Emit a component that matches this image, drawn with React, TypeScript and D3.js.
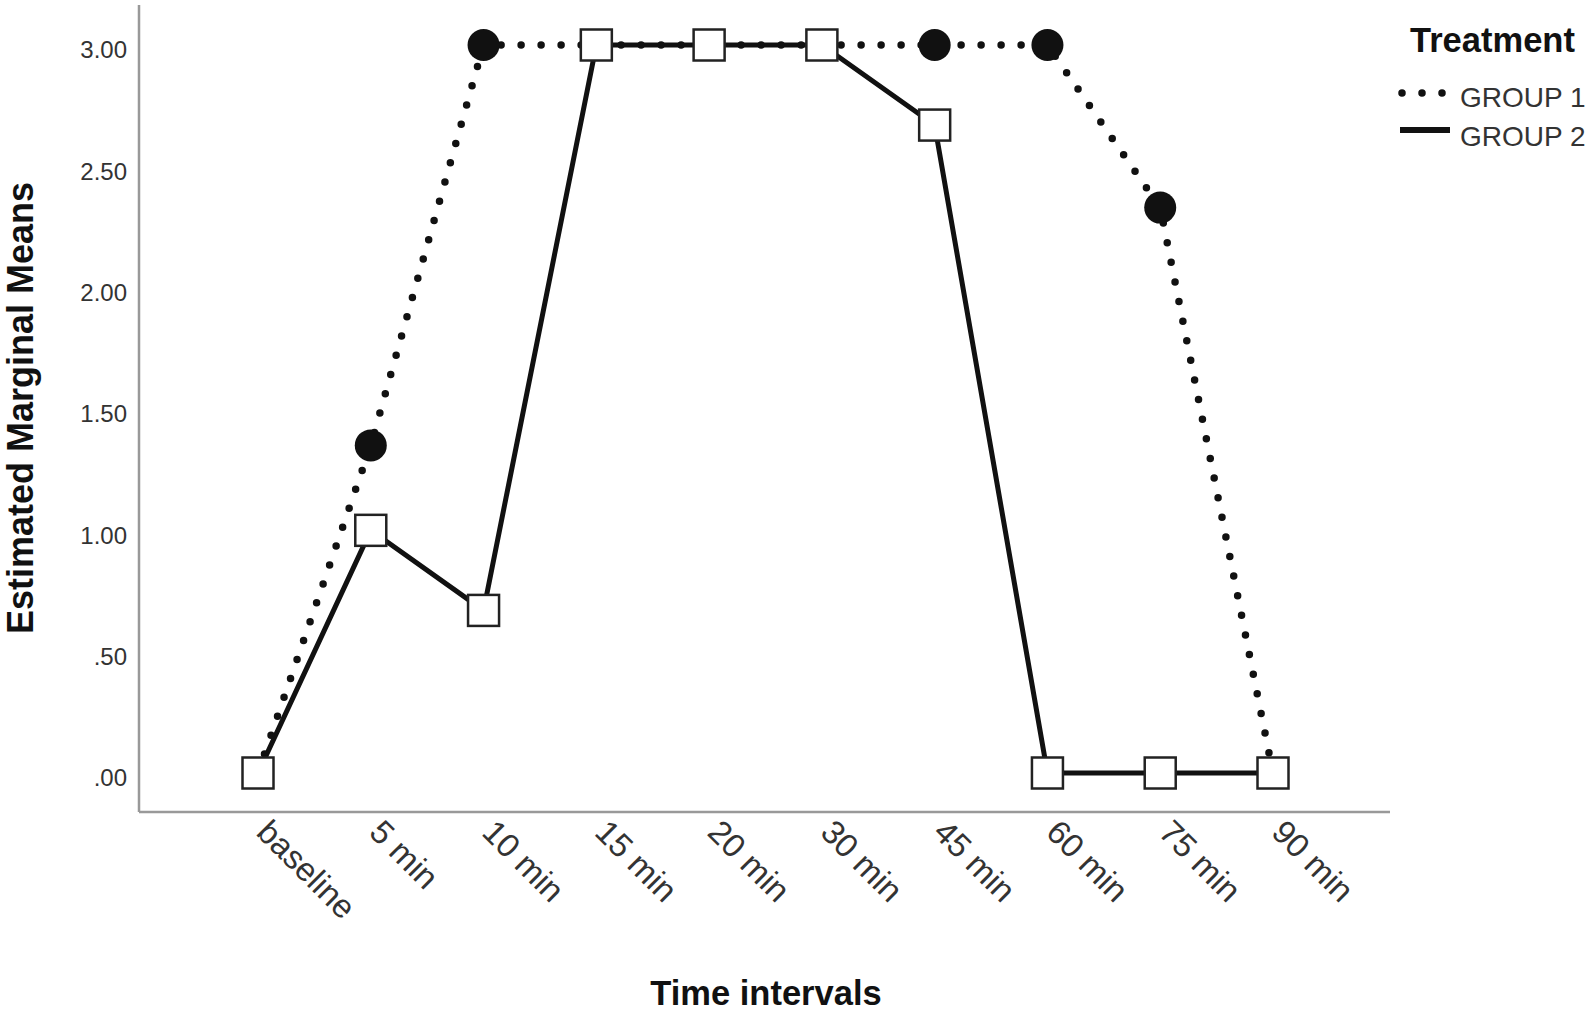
import React, { useRef, useEffect } from 'react';
import * as d3 from 'd3';

const timeLabels = ['baseline', '5 min', '10 min', '15 min', '20 min', '30 min', '45 min', '60 min', '75 min', '90 min'];
const group1 = [0, 1.35, 3, 3, 3, 3, 3, 3, 2.33, 0];
const group2 = [0, 1.0, 0.67, 3, 3, 3, 2.67, 0, 0, 0];
const yTicks = [0, 0.5, 1, 1.5, 2, 2.5, 3];
const yTickLabels = ['.00', '.50', '1.00', '1.50', '2.00', '2.50', '3.00'];
const legendNames = ['GROUP 1', 'GROUP 2'];

const FONT = '"Liberation Sans", Arial, sans-serif';

const App = () => {
  const svgRef = useRef<SVGSVGElement | null>(null);

  useEffect(() => {
    const width = 1594;
    const height = 1018;
    const axisX = 139;
    const axisY = 812;

    const svg = d3.select(svgRef.current);
    svg.selectAll('*').remove();
    svg.attr('width', width).attr('height', height);

    const x = d3.scalePoint<string>().domain(timeLabels).range([258, 1273]);
    const y = d3.scaleLinear().domain([0, 3]).range([773, 45]);

    // axis lines
    svg.append('line')
      .attr('x1', axisX).attr('x2', axisX)
      .attr('y1', 5).attr('y2', axisY)
      .attr('stroke', '#999').attr('stroke-width', 2.5);
    svg.append('line')
      .attr('x1', axisX).attr('x2', 1390)
      .attr('y1', axisY).attr('y2', axisY)
      .attr('stroke', '#999').attr('stroke-width', 2.5);

    // y tick labels
    svg.append('g')
      .selectAll('text')
      .data(yTicks)
      .enter()
      .append('text')
      .attr('x', 127)
      .attr('y', d => y(d) + 5)
      .attr('dy', '0.35em')
      .attr('text-anchor', 'end')
      .attr('font-family', FONT)
      .attr('font-size', 24)
      .attr('fill', '#333')
      .text((d, i) => yTickLabels[i]);

    // x tick labels
    svg.append('g')
      .selectAll('text')
      .data(timeLabels)
      .enter()
      .append('text')
      .attr('transform', d => `translate(${x(d)! - 3},834) rotate(45)`)
      .attr('text-anchor', 'start')
      .attr('font-family', FONT)
      .attr('font-size', 33)
      .attr('fill', '#333')
      .text(d => d);

    // axis titles
    svg.append('text')
      .attr('transform', 'translate(33,408) rotate(-90)')
      .attr('text-anchor', 'middle')
      .attr('font-family', FONT)
      .attr('font-weight', 'bold')
      .attr('font-size', 36)
      .attr('fill', '#111')
      .text('Estimated Marginal Means');

    svg.append('text')
      .attr('x', 766)
      .attr('y', 1005)
      .attr('text-anchor', 'middle')
      .attr('font-family', FONT)
      .attr('font-weight', 'bold')
      .attr('font-size', 34.5)
      .attr('fill', '#111')
      .text('Time intervals');

    const line = d3.line<number>()
      .x((d, i) => x(timeLabels[i])!)
      .y(d => y(d));

    // group 2 solid line
    svg.append('path')
      .datum(group2)
      .attr('d', line)
      .attr('fill', 'none')
      .attr('stroke', '#111')
      .attr('stroke-width', 5)
      .attr('stroke-linejoin', 'round');

    // group 1 dotted line
    svg.append('path')
      .datum(group1)
      .attr('d', line)
      .attr('fill', 'none')
      .attr('stroke', '#111')
      .attr('stroke-width', 7.5)
      .attr('stroke-linecap', 'round')
      .attr('stroke-dasharray', '0 20');

    // group 1 circles
    svg.append('g')
      .selectAll('circle')
      .data(group1)
      .enter()
      .append('circle')
      .attr('cx', (d, i) => x(timeLabels[i])!)
      .attr('cy', d => y(d))
      .attr('r', 16)
      .attr('fill', '#111');

    // group 2 squares
    const side = 31;
    svg.append('g')
      .selectAll('rect')
      .data(group2)
      .enter()
      .append('rect')
      .attr('x', (d, i) => x(timeLabels[i])! - side / 2)
      .attr('y', d => y(d) - side / 2)
      .attr('width', side)
      .attr('height', side)
      .attr('fill', '#fff')
      .attr('stroke', '#222')
      .attr('stroke-width', 2.5);

    // legend
    const legend = svg.append('g');
    legend.append('text')
      .attr('x', 1410)
      .attr('y', 52)
      .attr('font-family', FONT)
      .attr('font-weight', 'bold')
      .attr('font-size', 34.5)
      .attr('fill', '#111')
      .text('Treatment');

    legend.append('line')
      .attr('x1', 1402).attr('x2', 1444)
      .attr('y1', 93).attr('y2', 93)
      .attr('stroke', '#111')
      .attr('stroke-width', 7.5)
      .attr('stroke-linecap', 'round')
      .attr('stroke-dasharray', '0 20');
    legend.append('line')
      .attr('x1', 1400).attr('x2', 1450)
      .attr('y1', 130).attr('y2', 130)
      .attr('stroke', '#111')
      .attr('stroke-width', 6);

    legend.selectAll('text.item')
      .data(legendNames)
      .enter()
      .append('text')
      .attr('class', 'item')
      .attr('x', 1460)
      .attr('y', (d, i) => 107 + i * 39)
      .attr('font-family', FONT)
      .attr('font-size', 28)
      .attr('fill', '#333')
      .text(d => d);
  }, []);

  return (
    <div style={{ position: 'absolute', left: 0, top: 0 }}>
      <svg ref={svgRef}></svg>
    </div>
  );
};

export default App;
